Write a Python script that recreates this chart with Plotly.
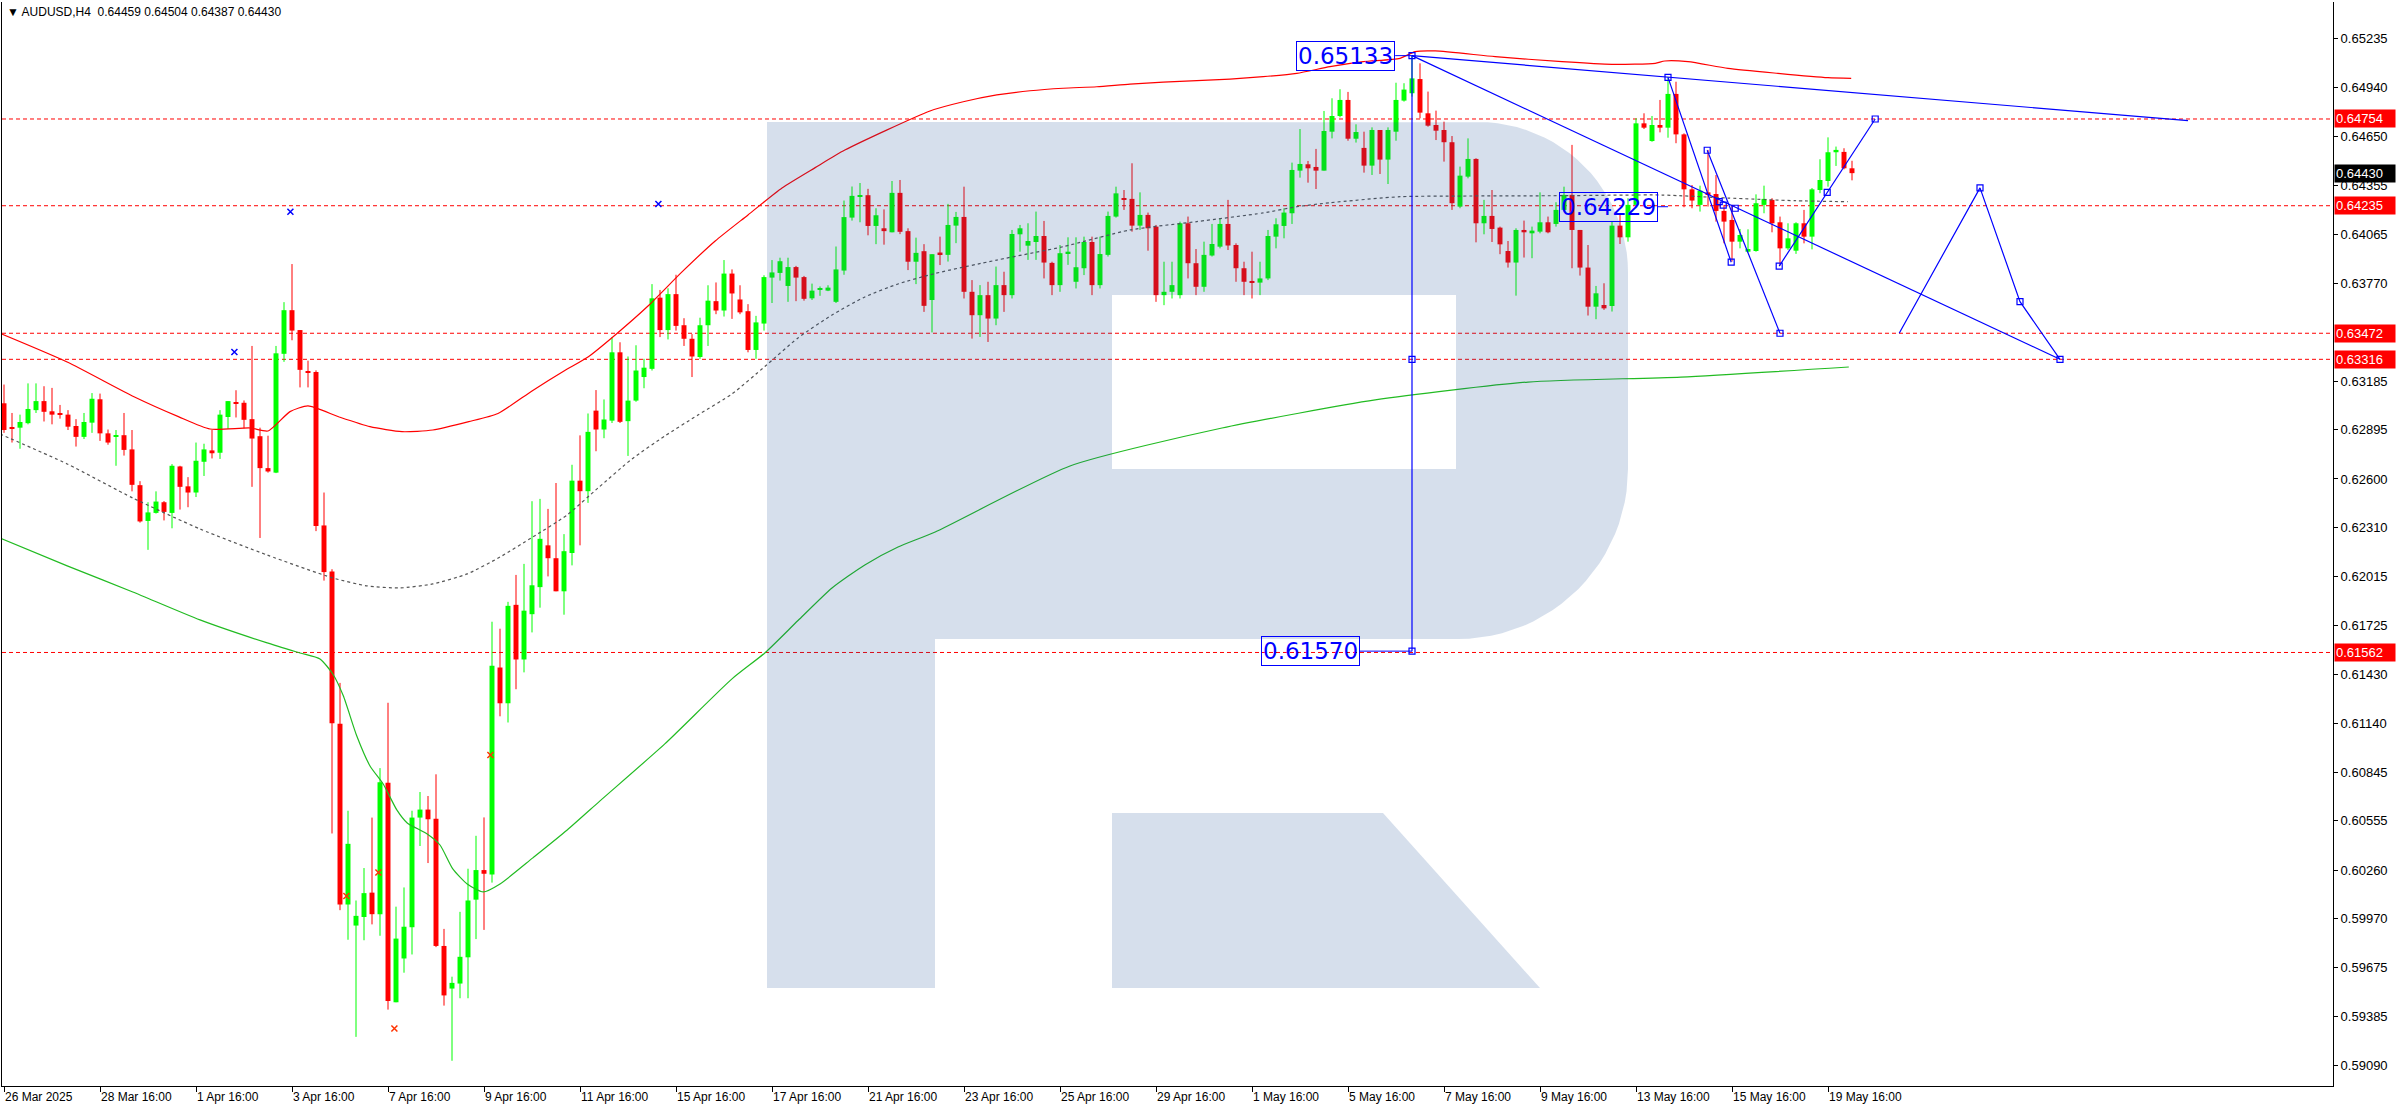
import math
import plotly.graph_objects as go

# ---------------- data (AUDUSD H4) ----------------
open_ = [
0.63053,0.62905,0.62907,0.62934,0.63012,0.63066,0.63005,0.62995,0.62985,0.62917,
0.62852,0.62937,0.63077,0.62873,0.62852,0.62862,0.62777,0.62563,0.62349,0.62397,
0.62461,0.62397,0.62675,0.62556,0.62519,0.62703,0.62771,0.62757,0.62971,0.63060,
0.63056,0.62958,0.62856,0.62665,0.62638,0.63349,0.63610,0.63491,0.63243,0.63240,
0.62322,0.62046,0.61135,0.60054,0.59928,0.59979,0.60125,0.59996,0.60782,0.59469,
0.59731,0.59918,0.60574,0.60622,0.60567,0.59806,0.59551,0.59581,0.59738,0.60083,
0.60260,0.60233,0.61472,0.61258,0.61847,0.61520,0.61791,0.61953,0.62203,0.62126,
0.61928,0.62157,0.62590,0.62527,0.63009,0.62896,0.62949,0.63358,0.62946,0.63069,
0.63210,0.63259,0.63685,0.63491,0.63706,0.63520,0.63439,0.63330,0.63520,0.63664,
0.63608,0.63829,0.63674,0.63604,0.63372,0.63530,0.63805,0.63833,0.63755,0.63868,
0.63808,0.63681,0.63731,0.63727,0.63660,0.63847,0.64164,0.64290,0.64298,0.64114,
0.64100,0.64076,0.64312,0.64083,0.63900,0.63963,0.63671,0.63955,0.63941,0.64116,
0.64168,0.63720,0.63580,0.63700,0.63560,0.63760,0.63700,0.64064,0.63996,0.64018,
0.64054,0.63893,0.63760,0.63951,0.63780,0.63861,0.64018,0.63760,0.63941,0.64170,
0.64280,0.64276,0.64116,0.64180,0.64110,0.63700,0.63720,0.63700,0.64130,0.63891,
0.63750,0.63937,0.63990,0.64126,0.64000,0.63861,0.63785,0.63775,0.63800,0.64050,
0.64114,0.64190,0.64445,0.64483,0.64467,0.64445,0.64678,0.64772,0.64868,0.64636,
0.64581,0.64475,0.64688,0.64511,0.64678,0.64864,0.64908,0.64993,0.64788,0.64718,
0.64688,0.64615,0.64230,0.64409,0.64515,0.64130,0.64174,0.64104,0.63964,0.63895,
0.64090,0.64070,0.64080,0.64136,0.64126,0.64210,0.64300,0.64090,0.63865,0.63631,
0.63641,0.63635,0.64116,0.64046,0.64240,0.64728,0.64622,0.64718,0.64702,0.64904,
0.64662,0.64333,0.64240,0.64315,0.64305,0.64204,0.64150,0.64020,0.63960,0.63964,
0.64240,0.64270,0.64136,0.63980,0.63966,0.64130,0.64050,0.64329,0.64383,0.64555,
0.64557,0.64459]

high = [
0.63165,0.62995,0.62985,0.63172,0.63172,0.63155,0.63145,0.63043,0.63012,0.62958,
0.62995,0.63114,0.63111,0.62896,0.62893,0.62995,0.62893,0.62587,0.62461,0.62526,
0.62468,0.62689,0.62679,0.62611,0.62818,0.62811,0.62893,0.63012,0.63066,0.63131,
0.63070,0.63396,0.62907,0.62859,0.63396,0.63658,0.63886,0.63491,0.63308,0.63250,
0.62519,0.62060,0.61380,0.60615,0.60078,0.60272,0.60574,0.60870,0.61261,0.60041,
0.60156,0.60615,0.60727,0.60703,0.60833,0.59908,0.59622,0.60010,0.60268,0.60465,
0.60575,0.61746,0.61704,0.61865,0.62026,0.62092,0.62467,0.62481,0.62421,0.62576,
0.62270,0.62685,0.62861,0.62992,0.63132,0.63076,0.63449,0.63418,0.63333,0.63400,
0.63319,0.63766,0.63731,0.63741,0.63822,0.63562,0.63467,0.63565,0.63759,0.63776,
0.63910,0.63854,0.63759,0.63646,0.63576,0.63819,0.63910,0.63924,0.63924,0.63875,
0.63815,0.63769,0.63752,0.63759,0.63991,0.64266,0.64350,0.64371,0.64336,0.64220,
0.64213,0.64383,0.64389,0.64100,0.64044,0.64005,0.63945,0.64050,0.64246,0.64198,
0.64349,0.63790,0.63760,0.63780,0.63871,0.63840,0.64090,0.64120,0.64130,0.64200,
0.64144,0.63900,0.64000,0.64046,0.64046,0.64050,0.64050,0.64050,0.64200,0.64349,
0.64329,0.64489,0.64315,0.64194,0.64120,0.63900,0.63900,0.64140,0.64170,0.63976,
0.64020,0.64126,0.64160,0.64270,0.64010,0.63900,0.63960,0.63900,0.64090,0.64160,
0.64220,0.64493,0.64694,0.64503,0.64575,0.64802,0.64878,0.64932,0.64916,0.64722,
0.64678,0.64704,0.64688,0.64704,0.64971,0.64968,0.65133,0.65087,0.64918,0.64804,
0.64738,0.64652,0.64469,0.64638,0.64519,0.64270,0.64329,0.64110,0.64024,0.64100,
0.64146,0.64110,0.64315,0.64170,0.64256,0.64349,0.64599,0.64090,0.64000,0.63755,
0.63771,0.64140,0.64180,0.64280,0.64758,0.64788,0.64772,0.64868,0.65003,0.64977,
0.64668,0.64359,0.64355,0.64569,0.64419,0.64240,0.64240,0.64096,0.64094,0.64303,
0.64355,0.64280,0.64170,0.64130,0.64136,0.64210,0.64341,0.64513,0.64644,0.64589,
0.64579,0.64504]

low = [
0.62876,0.62818,0.62781,0.62927,0.62995,0.62944,0.62927,0.62961,0.62893,0.62794,
0.62839,0.62876,0.62828,0.62805,0.62679,0.62740,0.62526,0.62339,0.62176,0.62393,
0.62352,0.62305,0.62417,0.62431,0.62492,0.62618,0.62723,0.62720,0.62900,0.62968,
0.62903,0.62553,0.62247,0.62638,0.62635,0.63301,0.63430,0.63148,0.63148,0.62288,
0.61992,0.60479,0.60020,0.59843,0.59262,0.59840,0.59935,0.59867,0.59425,0.59469,
0.59646,0.59755,0.60404,0.60302,0.59799,0.59449,0.59119,0.59493,0.59493,0.59847,
0.59902,0.60185,0.61180,0.61143,0.61342,0.61443,0.61682,0.61830,0.62017,0.61928,
0.61788,0.62083,0.62203,0.62457,0.62766,0.62844,0.62935,0.62935,0.62738,0.63062,
0.63143,0.63249,0.63449,0.63435,0.63488,0.63396,0.63210,0.63319,0.63396,0.63586,
0.63572,0.63558,0.63586,0.63358,0.63319,0.63488,0.63653,0.63787,0.63660,0.63664,
0.63667,0.63671,0.63696,0.63724,0.63653,0.63822,0.64146,0.64136,0.64058,0.64005,
0.64002,0.64076,0.64065,0.63850,0.63766,0.63600,0.63477,0.63880,0.63901,0.64011,
0.63680,0.63440,0.63450,0.63420,0.63520,0.63600,0.63680,0.63960,0.63911,0.63911,
0.63800,0.63700,0.63720,0.63881,0.63740,0.63820,0.63700,0.63740,0.63931,0.64164,
0.64210,0.64080,0.64090,0.63966,0.63660,0.63640,0.63680,0.63680,0.63800,0.63700,
0.63720,0.63931,0.63980,0.63970,0.63780,0.63700,0.63680,0.63700,0.63790,0.63980,
0.64040,0.64126,0.64403,0.64373,0.64335,0.64445,0.64638,0.64764,0.64624,0.64613,
0.64433,0.64419,0.64425,0.64365,0.64624,0.64858,0.64888,0.64758,0.64708,0.64628,
0.64499,0.64210,0.64220,0.64399,0.64016,0.64064,0.64018,0.63945,0.63865,0.63697,
0.63925,0.63921,0.64070,0.64070,0.64110,0.64200,0.63861,0.63817,0.63578,0.63556,
0.63612,0.63602,0.64006,0.64020,0.64230,0.64694,0.64618,0.64674,0.64642,0.64609,
0.64226,0.64220,0.64200,0.64230,0.64140,0.64010,0.63901,0.63980,0.63955,0.63960,
0.64190,0.64076,0.63877,0.63970,0.63947,0.64010,0.63974,0.64310,0.64349,0.64473,
0.64453,0.64387]

close = [
0.62893,0.62900,0.62941,0.63019,0.63066,0.63002,0.62985,0.62988,0.62913,0.62852,
0.62941,0.63080,0.62873,0.62818,0.62859,0.62774,0.62565,0.62346,0.62400,0.62465,
0.62403,0.62679,0.62553,0.62519,0.62709,0.62777,0.62754,0.62985,0.63066,0.63053,
0.62954,0.62842,0.62665,0.62645,0.63352,0.63610,0.63488,0.63253,0.63236,0.62318,
0.62043,0.61139,0.60054,0.60417,0.59986,0.60122,0.59996,0.60785,0.59476,0.59850,
0.59921,0.60574,0.60622,0.60564,0.59806,0.59510,0.59585,0.59741,0.60078,0.60260,
0.60238,0.61483,0.61258,0.61841,0.61520,0.61812,0.61964,0.62242,0.62126,0.61928,
0.62168,0.62590,0.62527,0.62882,0.62896,0.62956,0.63358,0.62942,0.63069,0.63249,
0.63266,0.63681,0.63491,0.63706,0.63516,0.63439,0.63333,0.63520,0.63667,0.63608,
0.63829,0.63710,0.63597,0.63372,0.63537,0.63808,0.63836,0.63903,0.63868,0.63805,
0.63678,0.63727,0.63738,0.63745,0.63854,0.64167,0.64294,0.64298,0.64114,0.64178,
0.64083,0.64312,0.64079,0.63900,0.63953,0.63636,0.63945,0.63945,0.64120,0.64168,
0.63720,0.63580,0.63700,0.63560,0.63760,0.63700,0.64066,0.64100,0.64024,0.64054,
0.63895,0.63760,0.63951,0.63960,0.63867,0.64018,0.63760,0.63946,0.64174,0.64309,
0.64270,0.64116,0.64180,0.64100,0.63700,0.63720,0.63760,0.64130,0.63891,0.63750,
0.63941,0.64006,0.64126,0.63997,0.63861,0.63780,0.63775,0.63800,0.64054,0.64124,
0.64194,0.64449,0.64485,0.64459,0.64445,0.64682,0.64772,0.64868,0.64636,0.64676,
0.64475,0.64688,0.64511,0.64688,0.64868,0.64930,0.64997,0.64792,0.64714,0.64684,
0.64615,0.64250,0.64415,0.64515,0.64130,0.64174,0.64096,0.64004,0.63895,0.64090,
0.64076,0.64086,0.64136,0.64076,0.64210,0.64300,0.64090,0.63865,0.63631,0.63711,
0.63621,0.64116,0.64046,0.64240,0.64728,0.64702,0.64718,0.64702,0.64904,0.64662,
0.64333,0.64266,0.64325,0.64305,0.64204,0.64140,0.64020,0.64060,0.63976,0.64250,
0.64276,0.64130,0.63980,0.64040,0.64130,0.64050,0.64333,0.64389,0.64555,0.64569,
0.64459,0.64430]

# time axis labels (bar index -> text)
time_tick_idx = [0, 12, 24, 36, 48, 60, 72, 84, 96, 108, 120, 132, 144, 156, 168, 180, 192, 204, 216, 228]
time_tick_lbl = ["26 Mar 2025", "28 Mar 16:00", "1 Apr 16:00", "3 Apr 16:00", "7 Apr 16:00",
                 "9 Apr 16:00", "11 Apr 16:00", "15 Apr 16:00", "17 Apr 16:00", "21 Apr 16:00",
                 "23 Apr 16:00", "25 Apr 16:00", "29 Apr 16:00", "1 May 16:00", "5 May 16:00",
                 "7 May 16:00", "9 May 16:00", "13 May 16:00", "15 May 16:00", "19 May 16:00"]

price_ticks = [0.65235, 0.64940, 0.64650, 0.64355, 0.64065, 0.63770, 0.63185, 0.62895, 0.62600,
               0.62310, 0.62015, 0.61725, 0.61430, 0.61140, 0.60845, 0.60555, 0.60260, 0.59970,
               0.59675, 0.59385, 0.59090]

# envelope / moving-average lines (bar index, price)
upper_idx = [-0.5, 7.9, 16.25, 21.8, 25.75, 30.75, 33, 35.75, 38, 41.9, 45.75, 49.75, 53.6, 58.1,
             61.75, 66, 70.1, 73, 76.4, 80.5, 84.75, 88.9, 93, 97.25, 101.4, 105.1, 115.75, 119.9,
             124.1, 128.25, 132.4, 136.6, 140.75, 144.9, 149.1, 153.25, 157.4, 161.6, 165.75,
             169.9, 174.5, 176.4, 178.9, 186.4, 194.75, 201, 206.4, 207.6, 210.5, 215.5, 221.75,
             228, 230.9]
upper_val = [0.63472, 0.63300, 0.63092, 0.62973, 0.62899, 0.62905, 0.62887, 0.63003, 0.63037,
             0.62971, 0.62913, 0.62883, 0.62893, 0.62943, 0.62992, 0.63127, 0.63249, 0.63330,
             0.63462, 0.63635, 0.63839, 0.64024, 0.64180, 0.64341, 0.64463, 0.64568, 0.64802,
             0.64857, 0.64898, 0.64923, 0.64938, 0.64947, 0.64963, 0.64974, 0.64983, 0.64993,
             0.65007, 0.65027, 0.65067, 0.65097, 0.65117, 0.65157, 0.65161, 0.65127, 0.65097,
             0.65081, 0.65087, 0.65101, 0.65097, 0.65057, 0.65027, 0.65001, 0.64997]

mid_idx = [-0.5, 7.9, 16.1, 24.5, 32.9, 41.1, 45.4, 49.5, 53.6, 57.9, 62, 66.1, 70.4, 74.25, 78.5,
           82.6, 86.75, 91, 95.1, 99.25, 103.5, 107.6, 111.75, 116.4, 124.1, 132.4, 140.75, 149.1,
           157.4, 161.6, 165.75, 174.5, 182.25, 194.75, 207.25, 215.5, 223.9, 230.5]
mid_val = [0.62869, 0.62690, 0.62486, 0.62301, 0.62145, 0.62008, 0.61960, 0.61948, 0.61972,
           0.62032, 0.62133, 0.62253, 0.62385, 0.62546, 0.62720, 0.62857, 0.62983, 0.63109,
           0.63273, 0.63444, 0.63581, 0.63689, 0.63767, 0.63830, 0.63910, 0.63990, 0.64090,
           0.64140, 0.64192, 0.64229, 0.64253, 0.64289, 0.64293, 0.64295, 0.64299, 0.64281,
           0.64265, 0.64259]

lower_idx = [-0.5, 7.9, 16.1, 24.5, 32.9, 37, 39.5, 41.1, 42.4, 44.1, 45.75, 47.4, 49.1, 50.4,
             52.9, 54.5, 56.1, 57.9, 59.9, 62, 66.1, 70.4, 74.5, 82.6, 91, 95.1, 99.25, 103.5,
             107.6, 111.75, 116.4, 133.25, 152.25, 171.4, 190.5, 209.6, 230.6]
lower_val = [0.62247, 0.62080, 0.61924, 0.61757, 0.61619, 0.61559, 0.61523, 0.61433, 0.61304,
             0.61062, 0.60883, 0.60775, 0.60620, 0.60542, 0.60476, 0.60410, 0.60267, 0.60177,
             0.60129, 0.60177, 0.60333, 0.60500, 0.60674, 0.61015, 0.61404, 0.61559, 0.61753,
             0.61948, 0.62086, 0.62193, 0.62283, 0.62678, 0.62905, 0.63073, 0.63180, 0.63210,
             0.63270]

# horizontal levels
red_levels = [0.64754, 0.64235, 0.63472, 0.63316, 0.61562]
last_price = 0.64430
header = "\u25bc AUDUSD,H4\u00a0\u00a00.64459 0.64504 0.64387 0.64430"

# fractal-like markers
blue_mark_idx = [35.8, 28.8, 81.8]
blue_mark_val = [0.64199, 0.63360, 0.64245]
red_mark_idx = [42.8, 46.8, 48.8, 60.8]
red_mark_val = [0.60105, 0.60246, 0.59312, 0.60949]

# blue analysis drawings (bar index, price)
upper_trend_idx = [176, 273]
upper_trend_val = [0.65133, 0.64744]
lower_trend_idx = [176, 257]
lower_trend_val = [0.65133, 0.63316]
vert_idx = [176, 176]
vert_val = [0.65133, 0.61570]
wave1_idx = [208, 215.9]
wave1_val = [0.65003, 0.63897]
wave2_idx = [212.9, 222]
wave2_val = [0.64567, 0.63472]
wave3_idx = [221.9, 227.9, 233.9]
wave3_val = [0.63874, 0.64315, 0.64754]
forecast_idx = [236.9, 247, 252, 257]
forecast_val = [0.63472, 0.64342, 0.63661, 0.63316]
square_idx = [176, 176, 176, 208, 212.9, 214.4, 214.9, 216.4, 215.9, 222, 221.9, 227.9, 233.9, 247, 252, 257]
square_val = [0.65133, 0.63316, 0.61570, 0.65003, 0.64567, 0.64259, 0.64239, 0.64220, 0.63897,
              0.63472, 0.63874, 0.64315, 0.64754, 0.64342, 0.63661, 0.63316]
label_texts = ["0.65133", "0.61570", "0.64229"]
label_idx = [173.9, 169.5, 206.75]     # right edge of label box
label_val = [0.65133, 0.61570, 0.64229]
label_anchor_idx = [176, 176, 208]

# ---------------- geometry ----------------
W, H = 2396, 1110
PL, PR, PT, PB = 2, 2333, 2, 1086
XR = [-0.25, 291.125]
YR = [0.58968, 0.65454]

def px_x(px):
    return XR[0] + (px - PL) / (PR - PL) * (XR[1] - XR[0])

def px_y(py):
    return YR[1] - (py - PT) / (PB - PT) * (YR[1] - YR[0])

GREEN = "#00ff00"
RED = "#ff0000"
BLUE = "#0000ff"

fig = go.Figure()

n = len(open_)
idx = list(range(n))
up = [i for i in idx if close[i] >= open_[i]]
dn = [i for i in idx if close[i] < open_[i]]

def wicks(sel):
    X, Y = [], []
    for i in sel:
        X += [i, i, None]
        Y += [low[i], high[i], None]
    return X, Y

for sel, col in ((up, GREEN), (dn, RED)):
    wx, wy = wicks(sel)
    fig.add_trace(go.Scatter(x=wx, y=wy, mode="lines", line=dict(color=col, width=1),
                             hoverinfo="skip"))
    base = [min(open_[i], close[i]) for i in sel]
    hgt = [max(abs(close[i] - open_[i]), 0.00006) for i in sel]
    fig.add_trace(go.Bar(x=sel, y=hgt, base=base, width=0.62,
                         marker=dict(color=col, line=dict(width=0)), hoverinfo="skip"))

# envelope lines
fig.add_trace(go.Scatter(x=upper_idx, y=upper_val, mode="lines",
                         line=dict(color=RED, width=1.2, shape="spline", smoothing=0.6)))
fig.add_trace(go.Scatter(x=lower_idx, y=lower_val, mode="lines",
                         line=dict(color="#22bb22", width=1.2, shape="spline", smoothing=0.6)))
fig.add_trace(go.Scatter(x=mid_idx, y=mid_val, mode="lines",
                         line=dict(color="#555555", width=1.2, dash="3px,3px", shape="spline",
                                   smoothing=0.6)))

# markers
fig.add_trace(go.Scatter(x=blue_mark_idx, y=blue_mark_val, mode="markers",
                         marker=dict(symbol="x-thin", size=6, line=dict(color=BLUE, width=1.5))))
fig.add_trace(go.Scatter(x=red_mark_idx, y=red_mark_val, mode="markers",
                         marker=dict(symbol="x-thin", size=6, line=dict(color="#ff3300", width=1.5))))

# watermark "R" (pixel outline converted to data coordinates)
def arc(cx, cy, r, a0, a1, steps=24):
    pts = []
    for k in range(steps + 1):
        a = math.radians(a0 + (a1 - a0) * k / steps)
        pts.append((cx + r * math.cos(a), cy + r * math.sin(a)))
    return pts

outer = [(767, 122), (1478, 122)]
outer += arc(1478, 272, 150, -90, 0)
outer += [(1628, 380), (1456, 380), (1456, 295), (1112, 295), (1112, 469), (1456, 469),
          (1456, 380), (1628, 380)]
outer += arc(1458, 469, 170, 0, 90)
outer += [(935, 639), (935, 988), (767, 988), (767, 122)]
leg = [(1112, 813), (1383, 813), (1540, 988), (1112, 988), (1112, 813)]
wx, wy = [], []
for poly in (outer, leg):
    for (a, b) in poly:
        wx.append(px_x(a))
        wy.append(px_y(b))
    wx.append(None)
    wy.append(None)
fig.add_trace(go.Scatter(x=wx, y=wy, mode="lines", fill="toself",
                         fillcolor="rgba(30,80,150,0.18)", line=dict(width=0),
                         hoverinfo="skip"))

# blue drawings
for xs_, ys_ in ((upper_trend_idx, upper_trend_val), (lower_trend_idx, lower_trend_val),
                 (vert_idx, vert_val), (wave1_idx, wave1_val), (wave2_idx, wave2_val),
                 (wave3_idx, wave3_val), (forecast_idx, forecast_val)):
    fig.add_trace(go.Scatter(x=xs_, y=ys_, mode="lines", line=dict(color=BLUE, width=1.2)))
for lx, ax, lv in zip(label_idx, label_anchor_idx, label_val):
    fig.add_trace(go.Scatter(x=[lx, ax], y=[lv, lv], mode="lines", line=dict(color=BLUE, width=1)))
fig.add_trace(go.Scatter(x=square_idx, y=square_val, mode="markers",
                         marker=dict(symbol="square-open", size=6, color=BLUE,
                                     line=dict(color=BLUE, width=1.2))))

# horizontal dashed levels
shapes = []
for lv in red_levels:
    shapes.append(dict(type="line", xref="paper", x0=0, x1=1, yref="y", y0=lv, y1=lv,
                       line=dict(color=RED, width=1, dash="4px,3px"), layer="below"))

annotations = []
for t, lx, lv in zip(label_texts, label_idx, label_val):
    annotations.append(dict(x=lx, y=lv, xref="x", yref="y", text=t, showarrow=False,
                            xanchor="right", yanchor="middle",
                            font=dict(family="DejaVu Sans", size=23, color=BLUE),
                            bordercolor=BLUE, borderwidth=1, borderpad=1))
for lv in red_levels:
    annotations.append(dict(x=1, y=lv, xref="paper", yref="y", text=f"{lv:.5f}",
                            showarrow=False, xanchor="left", yanchor="middle", xshift=1,
                            width=58, align="left", bgcolor=RED, borderpad=1,
                            font=dict(family="Liberation Sans", size=13, color="white")))
annotations.append(dict(x=1, y=last_price, xref="paper", yref="y", text=f"{last_price:.5f}",
                        showarrow=False, xanchor="left", yanchor="middle", xshift=1,
                        width=58, align="left", bgcolor="black", borderpad=1,
                        font=dict(family="Liberation Sans", size=13, color="white")))
annotations.append(dict(x=0, y=1, xref="paper", yref="paper", text=header, showarrow=False,
                        xanchor="left", yanchor="top", xshift=3, yshift=-1,
                        font=dict(family="Liberation Sans", size=12, color="black")))

fig.update_layout(
    width=W, height=H,
    margin=dict(l=PL, r=W - PR, t=PT, b=H - PB, pad=0),
    paper_bgcolor="white", plot_bgcolor="white",
    showlegend=False, barmode="overlay", hovermode=False,
    shapes=shapes, annotations=annotations,
    xaxis=dict(range=XR, showgrid=False, zeroline=False, tickmode="array",
               tickvals=time_tick_idx, ticktext=time_tick_lbl, ticks="outside", ticklen=5,
               tickcolor="black", showline=True, linecolor="black", linewidth=1,
               ticklabelposition="outside right",
               tickfont=dict(family="Liberation Sans", size=12, color="black")),
    yaxis=dict(range=YR, side="right", showgrid=False, zeroline=False, tickmode="array",
               tickvals=price_ticks, ticktext=[f"{v:.5f}" for v in price_ticks],
               ticks="outside", ticklen=4, tickcolor="black", showline=True,
               linecolor="black", linewidth=1, mirror=True,
               tickfont=dict(family="Liberation Sans", size=13, color="black")),
)

fig.write_html("out.html", config={"displayModeBar": False},
               post_script="document.body.style.margin='0px';document.body.style.overflow='hidden';")
